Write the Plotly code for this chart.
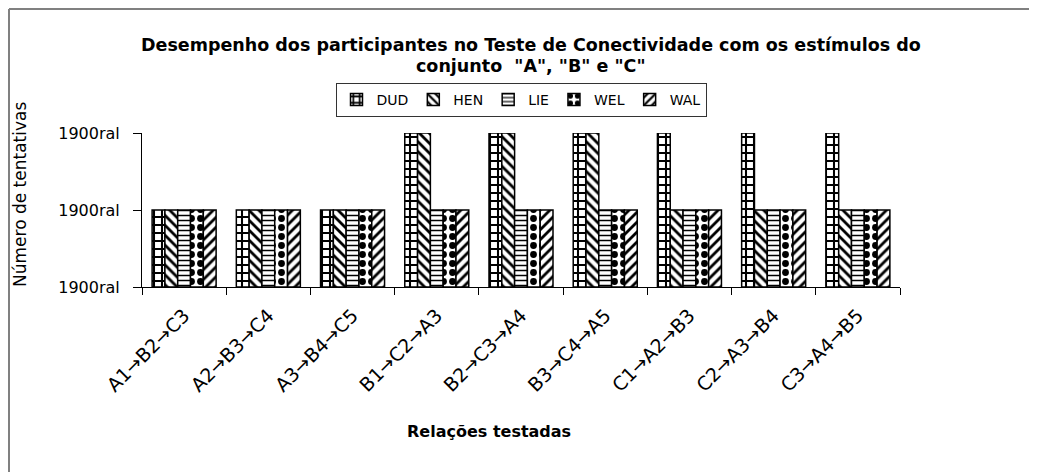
import plotly.graph_objects as go

categories = ["A1→B2→C3", "A2→B3→C4", "A3→B4→C5",
              "B1→C2→A3", "B2→C3→A4", "B3→C4→A5",
              "C1→A2→B3", "C2→A3→B4", "C3→A4→B5"]
DUD = [1, 1, 1, 2, 2, 2, 2, 2, 2]
HEN = [1, 1, 1, 2, 2, 2, 1, 1, 1]
LIE = [1, 1, 1, 1, 1, 1, 1, 1, 1]
WEL = [1, 1, 1, 1, 1, 1, 1, 1, 1]
WAL = [1, 1, 1, 1, 1, 1, 1, 1, 1]
ytick_vals = [0, 1, 2]
ytick_text = ["1900ral", "1900ral", "1900ral"]

series = [("DUD", DUD, "+", 8, 0.45),
          ("HEN", HEN, "\\", 7, 0.4),
          ("LIE", LIE, "-", 5, 0.3),
          ("WEL", WEL, ".", 9, 0.45),
          ("WAL", WAL, "/", 7, 0.4)]

FONT = "DejaVu Sans, Verdana, sans-serif"

# page body has an 8px margin: work in screen coordinates and convert
def px(sx):
    return (sx - 142) / 758

def py(sy):
    return (287 - sy) / 154

fig = go.Figure()
for name, vals, shape, size, sol in series:
    fig.add_trace(go.Bar(
        name=name, x=categories, y=vals,
        marker=dict(color="white",
                    line=dict(color="black", width=1.5),
                    pattern=dict(shape=shape, fgcolor="black", bgcolor="white",
                                 size=size, solidity=sol, fillmode="replace")),
    ))

fig.update_layout(
    width=1029, height=464,
    margin=dict(l=134, r=137, t=125, b=185),
    paper_bgcolor="white", plot_bgcolor="white",
    barmode="group", bargap=0.24, bargroupgap=0,
    font=dict(family=FONT, color="black", size=15),
    showlegend=True,
    legend=dict(orientation="h", x=px(521), xanchor="center", y=py(100), yanchor="middle",
                bordercolor="#333333", borderwidth=1, bgcolor="white",
                font=dict(family=FONT, size=14), itemwidth=30,
                traceorder="normal"),
)

fig.add_annotation(text="<b>Desempenho dos participantes no Teste de Conectividade com os estímulos do</b>",
                   xref="paper", yref="paper", x=px(531), y=py(45), showarrow=False,
                   xanchor="center", yanchor="middle",
                   font=dict(family=FONT, size=17.5, color="black"))
fig.add_annotation(text="<b>conjunto  \"A\", \"B\" e \"C\"</b>",
                   xref="paper", yref="paper", x=px(531), y=py(66), showarrow=False,
                   xanchor="center", yanchor="middle",
                   font=dict(family=FONT, size=17.5, color="black"))

fig.update_xaxes(
    type="category", showline=True, linecolor="black", linewidth=1,
    ticks="outside", tickson="boundaries", ticklen=7, tickcolor="black",
    tickangle=-45, tickfont=dict(family=FONT, size=19), showgrid=False,
    ticklabelstandoff=9,
)
fig.update_yaxes(
    range=[0, 2], tickvals=ytick_vals, ticktext=ytick_text,
    showline=True, linecolor="black", linewidth=1,
    ticks="outside", ticklen=8, tickcolor="black",
    tickfont=dict(family=FONT, size=16), showgrid=False, zeroline=False,
    ticklabelstandoff=10,
)

# axis titles
fig.add_annotation(text="<b>Relações testadas</b>", xref="paper", yref="paper",
                   x=px(489), y=py(431), showarrow=False,
                   xanchor="center", yanchor="middle",
                   font=dict(family=FONT, size=16, color="black"))
fig.add_annotation(text="Número de tentativas", xref="paper", yref="paper",
                   x=px(20), y=py(195), showarrow=False,
                   textangle=-90, xanchor="center", yanchor="middle",
                   font=dict(family=FONT, size=17, color="black"))

# outer chart frame (top and left edges visible)
fig.add_shape(type="line", xref="paper", yref="paper",
              x0=px(9), x1=px(1040), y0=py(9), y1=py(9),
              line=dict(color="#808080", width=2))
fig.add_shape(type="line", xref="paper", yref="paper",
              x0=px(9), x1=px(9), y0=py(9), y1=py(475),
              line=dict(color="#808080", width=2))

fig.write_html("out.html")
